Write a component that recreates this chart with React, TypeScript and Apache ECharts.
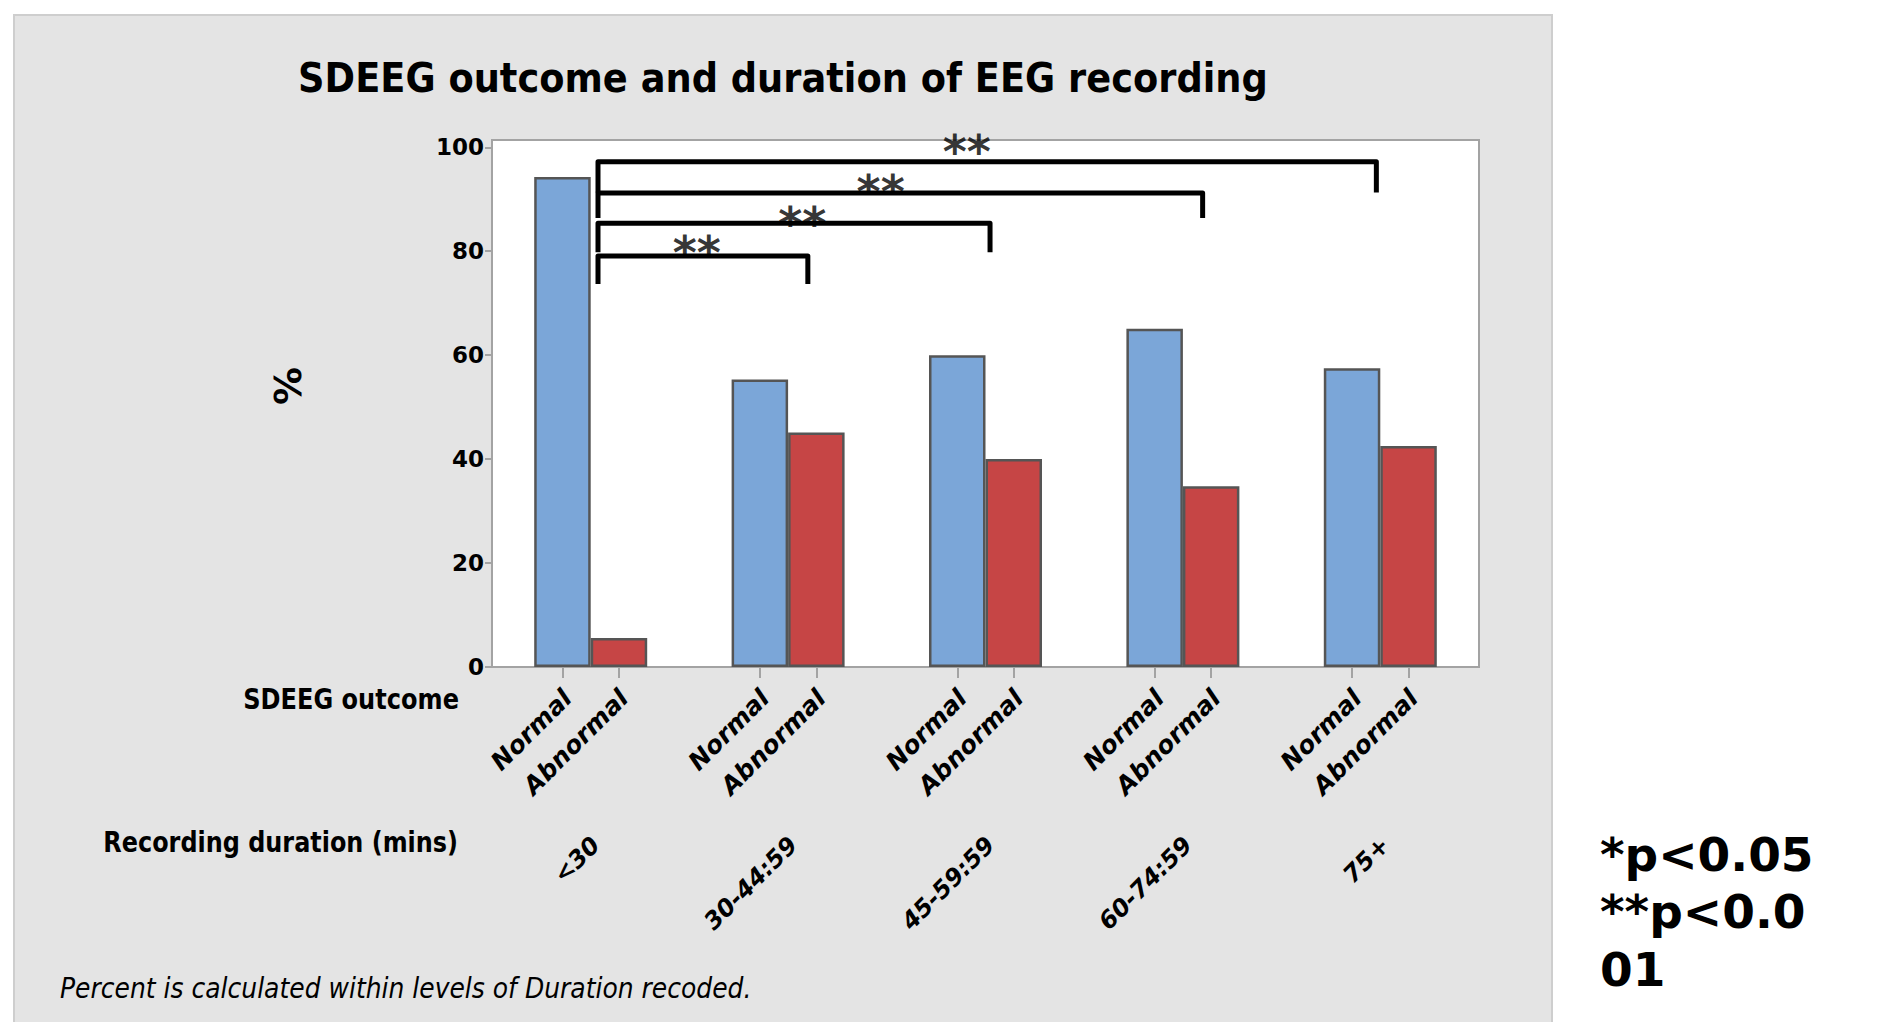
import { useEffect, useRef } from 'react';
import * as echarts from 'echarts';

// Recording-duration groups and SDEEG outcome per group (percent within group)
const durations = ['<30', '30-44:59', '45-59:59', '60-74:59', '75+'];
const outcomes = ['Normal', 'Abnormal'];
const normalPct = [94.3, 55.3, 60.0, 65.1, 57.5];
const abnormalPct = [5.6, 45.1, 40.0, 34.8, 42.5];
const yTicks = [0, 20, 40, 60, 80, 100];
const yMax = 101.4;

// Significance brackets from the <30 group to each later group (x in group-index units)
const bracketStart = 0.037;
const bracketEnds = [1.1, 2.023, 3.1, 3.98];
const bracketTops = [79.1, 85.4, 91.2, 97.2];
const bracketFeet = [73.7, 79.8, 86.4, 91.3];
const starX = [0.537, 1.072, 1.469, 1.905];
const starY = [81.5, 87.2, 93.3, 101.0];
const starText = '**';

const title = 'SDEEG outcome and duration of EEG recording';
const footnote = 'Percent is calculated within levels of Duration recoded.';
const pLegend = ['*p<0.05', '**p<0.0', '01'];

const W = 1903;
const H = 1022;
const GRID = { left: 492, right: 424, top: 140, bottom: 355 };
const BAR_W = 56.5;
const FONT = 'DejaVu Sans';

export default function App() {
  const ref = useRef<HTMLDivElement>(null);

  useEffect(() => {
    if (!ref.current) return;
    const chart = echarts.init(ref.current, null, { renderer: 'svg' });

    const catWidth = (W - GRID.left - GRID.right) / durations.length;
    const half = BAR_W / 2 / catWidth;
    const outcomeTicks = durations.flatMap((_, i) => [i - half, i + half]);
    const outcomeLabelPos = outcomeTicks.map((v) => v + 0.025);
    const durationLabelPos = durations.map((_, i) => i + 0.025);

    const gray = '#a3a3a3';
    const bracketSeries = bracketEnds.map((end, i) => ({
      type: 'line',
      xAxisIndex: 1,
      yAxisIndex: 0,
      data: [
        [bracketStart, bracketFeet[i]],
        [bracketStart, bracketTops[i]],
        [end, bracketTops[i]],
        [end, bracketFeet[i]],
      ],
      symbol: 'none',
      lineStyle: { color: '#000', width: 5, join: 'round' },
      z: 5,
      silent: true,
    }));

    const hiddenValueAxis = {
      type: 'value',
      min: -0.5,
      max: 4.5,
      position: 'bottom',
      axisLine: { show: false, onZero: false },
      splitLine: { show: false },
    };

    const option: any = {
      animation: false,
      textStyle: { fontFamily: FONT },
      grid: {
        ...GRID,
        show: true,
        backgroundColor: '#ffffff',
        borderColor: gray,
        borderWidth: 2,
        outerBoundsMode: 'none',
      },
      xAxis: [
        {
          type: 'category',
          data: durations,
          position: 'bottom',
          axisLine: { show: true, onZero: false, lineStyle: { color: gray, width: 2 } },
          axisTick: { show: false },
          axisLabel: { show: false },
          splitLine: { show: false },
        },
        { ...hiddenValueAxis, axisTick: { show: false }, axisLabel: { show: false } },
        {
          ...hiddenValueAxis,
          axisTick: {
            show: true,
            customValues: outcomeTicks,
            length: 11,
            lineStyle: { color: gray, width: 2 },
          },
          axisLabel: {
            customValues: outcomeLabelPos,
            rotate: 45,
            margin: 27,
            fontSize: 25,
            fontWeight: 'bold',
            fontStyle: 'italic',
            color: '#000',
            formatter: (v: number) => outcomes[v < Math.round(v) ? 0 : 1],
          },
        },
        {
          ...hiddenValueAxis,
          axisTick: { show: false },
          axisLabel: {
            customValues: durationLabelPos,
            rotate: 45,
            margin: 174,
            fontSize: 24,
            fontWeight: 'bold',
            fontStyle: 'italic',
            color: '#000',
            formatter: (v: number) => durations[Math.round(v)],
          },
        },
      ],
      yAxis: {
        type: 'value',
        min: 0,
        max: yMax,
        axisLine: { show: true, onZero: false, lineStyle: { color: gray, width: 2 } },
        axisTick: { show: true, customValues: yTicks, length: 7, lineStyle: { color: gray, width: 2 } },
        axisLabel: { customValues: yTicks, margin: 8, fontSize: 23, fontWeight: 'bold', color: '#000' },
        splitLine: { show: false },
      },
      series: [
        {
          type: 'bar',
          name: outcomes[0],
          data: normalPct,
          barWidth: BAR_W,
          barGap: '0%',
          itemStyle: { color: '#7BA6D8', borderColor: '#555555', borderWidth: 2.5 },
          silent: true,
        },
        {
          type: 'bar',
          name: outcomes[1],
          data: abnormalPct,
          barWidth: BAR_W,
          barGap: '0%',
          itemStyle: { color: '#C64545', borderColor: '#555555', borderWidth: 2.5 },
          silent: true,
        },
        ...bracketSeries,
        {
          type: 'scatter',
          xAxisIndex: 1,
          yAxisIndex: 0,
          data: starX.map((x, i) => [x, starY[i]]),
          symbolSize: 1,
          itemStyle: { color: 'rgba(0,0,0,0)' },
          label: {
            show: true,
            position: 'inside',
            formatter: starText,
            fontSize: 46,
            fontWeight: 'bold',
            color: '#000',
            offset: [0, 10],
          },
          z: 6,
          silent: true,
        },
      ],
      graphic: [
        {
          type: 'rect',
          z: -10,
          silent: true,
          shape: { x: 14, y: 15, width: 1538, height: 1040 },
          style: { fill: '#e4e4e4', stroke: '#cecece', lineWidth: 2 },
        },
        {
          type: 'text',
          x: 783,
          y: 78,
          scaleX: 0.92,
          silent: true,
          style: {
            text: title,
            font: `bold 40px "${FONT}"`,
            fill: '#000',
            align: 'center',
            verticalAlign: 'middle',
          },
        },
        {
          type: 'text',
          x: 288,
          y: 386,
          rotation: Math.PI / 2,
          silent: true,
          style: {
            text: '%',
            font: `bold 38px "${FONT}"`,
            fill: '#000',
            align: 'center',
            verticalAlign: 'middle',
          },
        },
        {
          type: 'text',
          x: 459,
          y: 699,
          scaleX: 0.86,
          silent: true,
          style: {
            text: 'SDEEG outcome',
            font: `bold 28px "${FONT}"`,
            fill: '#000',
            align: 'right',
            verticalAlign: 'middle',
          },
        },
        {
          type: 'text',
          x: 458,
          y: 842,
          scaleX: 0.855,
          silent: true,
          style: {
            text: 'Recording duration (mins)',
            font: `bold 28px "${FONT}"`,
            fill: '#000',
            align: 'right',
            verticalAlign: 'middle',
          },
        },
        {
          type: 'text',
          x: 60,
          y: 988,
          scaleX: 0.894,
          silent: true,
          style: {
            text: footnote,
            font: `italic 28px "${FONT}"`,
            fill: '#000',
            align: 'left',
            verticalAlign: 'middle',
          },
        },
        ...pLegend.map((t, i) => ({
          type: 'text',
          x: 1600,
          y: 854 + i * 57.5,
          silent: true,
          style: {
            text: t,
            font: `bold 47px "${FONT}"`,
            fill: '#000',
            align: 'left',
            verticalAlign: 'middle',
          },
        })),
      ],
    };

    chart.setOption(option);
    return () => chart.dispose();
  }, []);

  return (
    <div
      ref={ref}
      style={{ position: 'fixed', left: 0, top: 0, width: W, height: H, background: '#ffffff' }}
    />
  );
}
